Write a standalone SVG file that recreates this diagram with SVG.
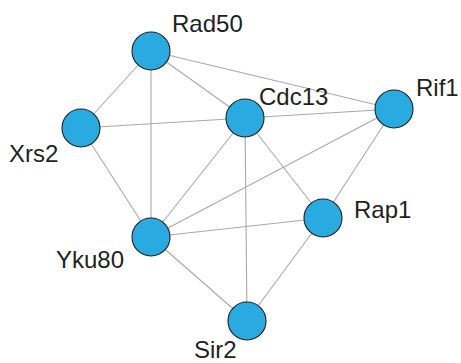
<svg xmlns="http://www.w3.org/2000/svg" width="461" height="363" viewBox="0 0 461 363">
  <style>
    .edge { stroke: #a7a9ac; stroke-width: 1.1; fill: none; }
    .node circle { fill: #29abe2; stroke: #231f20; stroke-width: 1.1; }
    .node text { font-family: "Liberation Sans", Arial, sans-serif; font-size: 24px; fill: #231f20; }
  </style>
  <rect width="461" height="363" fill="#ffffff"/>
  <g id="edges">
    <line class="edge" x1="151" y1="51" x2="81" y2="128"/>
    <line class="edge" x1="151" y1="51" x2="245" y2="118"/>
    <line class="edge" x1="151" y1="51" x2="394" y2="109"/>
    <line class="edge" x1="151" y1="51" x2="151" y2="237"/>
    <line class="edge" x1="81" y1="128" x2="245" y2="118"/>
    <line class="edge" x1="81" y1="128" x2="151" y2="237"/>
    <line class="edge" x1="245" y1="118" x2="394" y2="109"/>
    <line class="edge" x1="245" y1="118" x2="151" y2="237"/>
    <line class="edge" x1="245" y1="118" x2="323" y2="218"/>
    <line class="edge" x1="245" y1="118" x2="247" y2="321"/>
    <line class="edge" x1="394" y1="109" x2="151" y2="237"/>
    <line class="edge" x1="394" y1="109" x2="323" y2="218"/>
    <line class="edge" x1="151" y1="237" x2="323" y2="218"/>
    <line class="edge" x1="151" y1="237" x2="247" y2="321"/>
    <line class="edge" x1="323" y1="218" x2="247" y2="321"/>
  </g>
  <g id="Rad50" class="node">
    <circle cx="151" cy="51" r="19"/>
    <text x="172" y="32">Rad50</text>
  </g>
  <g id="Xrs2" class="node">
    <circle cx="81" cy="128" r="19"/>
    <text x="9" y="162">Xrs2</text>
  </g>
  <g id="Cdc13" class="node">
    <circle cx="245" cy="118" r="19"/>
    <text x="259" y="105">Cdc13</text>
  </g>
  <g id="Rif1" class="node">
    <circle cx="394" cy="109" r="19"/>
    <text x="416" y="96">Rif1</text>
  </g>
  <g id="Rap1" class="node">
    <circle cx="323" cy="218" r="19"/>
    <text x="354" y="218">Rap1</text>
  </g>
  <g id="Yku80" class="node">
    <circle cx="151" cy="237" r="19"/>
    <text x="56" y="268">Yku80</text>
  </g>
  <g id="Sir2" class="node">
    <circle cx="247" cy="321" r="19"/>
    <text x="194" y="358">Sir2</text>
  </g>
</svg>
